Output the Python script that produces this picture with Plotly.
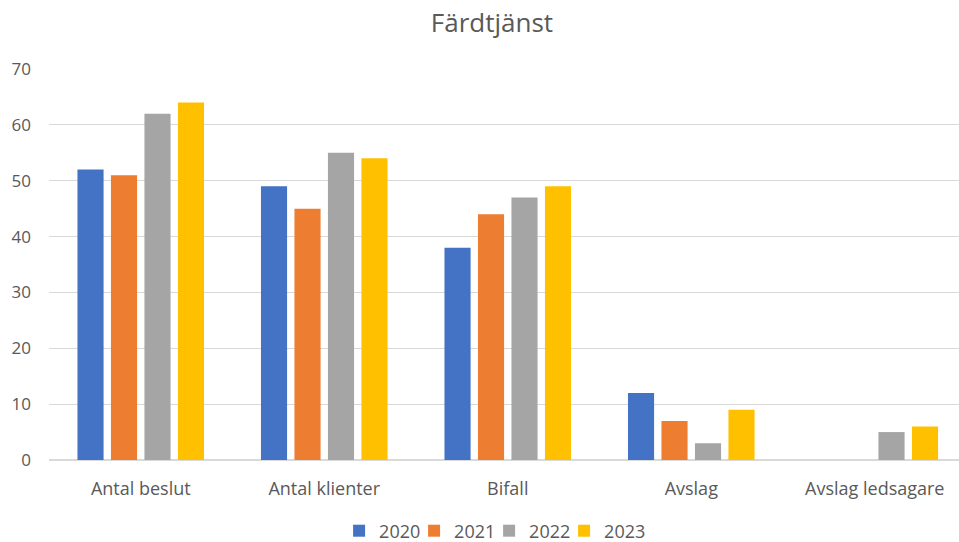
import plotly.graph_objects as go

categories = ["Antal beslut", "Antal klienter", "Bifall", "Avslag", "Avslag ledsagare"]
years = ["2020", "2021", "2022", "2023"]
v2020 = [52, 49, 38, 12, None]
v2021 = [51, 45, 44, 7, None]
v2022 = [62, 55, 47, 3, 5]
v2023 = [64, 54, 49, 9, 6]
series = [v2020, v2021, v2022, v2023]
colors = ["#4472C4", "#ED7D31", "#A5A5A5", "#FFC000"]

FONT = "Open Sans, Noto Sans, sans-serif"
TXT = "#595959"

fig = go.Figure()
for name, vals, c in zip(years, series, colors):
    fig.add_trace(go.Bar(x=categories, y=vals, name=name, marker_color=c,
                         marker_line_width=0))

fig.update_layout(
    width=959, height=542,
    paper_bgcolor="white", plot_bgcolor="white",
    margin=dict(l=49, r=0, t=69, b=82, autoexpand=False),
    title=dict(text="Färdtjänst", x=0.513, xanchor="center", xref="container",
               y=1 - 23 / 542, yanchor="middle", yref="container",
               font=dict(family=FONT, size=26, color=TXT)),
    barmode="group", bargap=0.27, bargroupgap=0.22,
    font=dict(family=FONT, size=17, color=TXT),
    legend=dict(orientation="h", x=0.51, xanchor="center", xref="container",
                y=1 - 531 / 542, yanchor="middle", yref="container",
                font=dict(family=FONT, size=18, color=TXT),
                entrywidth=30, entrywidthmode="pixels", traceorder="normal"),
    showlegend=True,
)
fig.update_yaxes(range=[0, 70], dtick=10, showgrid=True, gridcolor="#D9D9D9", gridwidth=1,
                 zeroline=True, zerolinecolor="#D9D9D9", ticks="", ticklabelstandoff=17,
                 automargin=False, tickfont=dict(family=FONT, size=17, color=TXT))
fig.update_xaxes(range=[-0.5, 4.459], showline=True, linecolor="#D9D9D9", ticks="",
                 ticklabelstandoff=12, automargin=False,
                 tickfont=dict(family=FONT, size=18, color=TXT))

post = """
document.body.style.margin='0';document.body.style.padding='0';
var gd = document.getElementById('{plot_id}');
function unclip(){
  gd.querySelectorAll('.legend [clip-path]').forEach(function(e){e.removeAttribute('clip-path');});
}
unclip();
if (gd.on) { gd.on('plotly_afterplot', unclip); }
setTimeout(unclip, 50); setTimeout(unclip, 300);
"""

fig.write_html("out.html", post_script=post, config={"displayModeBar": False})
